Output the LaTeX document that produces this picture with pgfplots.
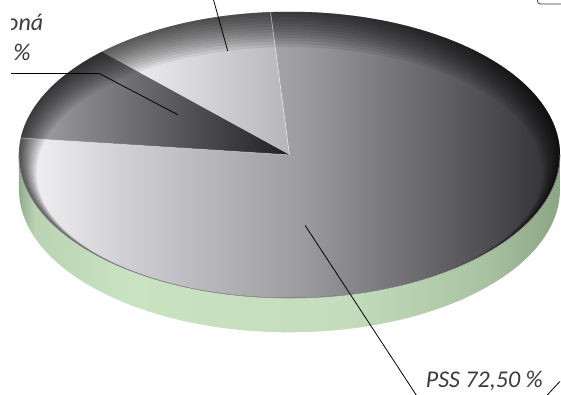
\documentclass[border=0pt]{standalone}
\usepackage{pgfplots}
\pgfplotsset{compat=1.18}
\usepackage{pgfplotstable}
\usepackage{fontspec}
\setmainfont{Carlito}

\definecolor{txt}{HTML}{3C3C3C}
\definecolor{pA}{HTML}{5A5A5E}
\definecolor{pB}{HTML}{C8C8CC}
\definecolor{pC}{HTML}{F0F0F2}
\definecolor{pD}{HTML}{D2D2D6}
\definecolor{pE}{HTML}{9B9BA0}
\definecolor{pF}{HTML}{646468}
\definecolor{pG}{HTML}{3C3C40}
\definecolor{pH}{HTML}{2E2E30}
\definecolor{gA}{HTML}{94AC8F}
\definecolor{gB}{HTML}{B9D3B3}
\definecolor{gC}{HTML}{C8E2C2}
\definecolor{gD}{HTML}{C3DDBD}
\definecolor{gE}{HTML}{A8C2A2}
\definecolor{gF}{HTML}{8BA585}

\pgfdeclarehorizontalshading{pssshade}{100bp}{color(0bp)=(pA); color(25bp)=(pA); color(25.7bp)=(pB); color(27.4bp)=(pC); color(35.1bp)=(pD); color(51.4bp)=(pE); color(63.2bp)=(pF); color(71.4bp)=(pG); color(75bp)=(pH); color(100bp)=(pH)}
\pgfdeclarehorizontalshading{greenshade}{100bp}{color(0bp)=(gA); color(25bp)=(gA); color(26.5bp)=(gB); color(35bp)=(gC); color(55bp)=(gD); color(68bp)=(gE); color(75bp)=(gF); color(100bp)=(gF)}

\pgfplotstableread{
part share
light 11.1
dark 10.9
PSS 78.0
}\piedata

\begin{document}
\pgfplotstablegetelem{0}{share}\of\piedata \let\sA\pgfplotsretval
\pgfplotstablegetelem{1}{share}\of\piedata \let\sB\pgfplotsretval
\pgfplotstablegetelem{2}{share}\of\piedata \let\sC\pgfplotsretval
\pgfmathsetmacro\aA{94}
\pgfmathsetmacro\aB{\aA+3.6*\sA}
\pgfmathsetmacro\aC{\aB+3.6*\sB}
\pgfmathsetmacro\aD{\aC+3.6*\sC}
\def\cx{284}\def\cy{244}\def\gy{209}
\begin{tikzpicture}
\useasboundingbox (0,0) rectangle (561pt,402pt);
\clip (0,0) rectangle (561pt,402pt);
\begin{axis}[at={(0,0)}, anchor=south west, x=1pt, y=1pt,
  xmin=0, xmax=561, ymin=0, ymax=402, hide axis, clip=false]
% green base
\shade[shading=greenshade] (axis cs:8,\gy) -- (axis cs:8,\cy) -- (axis cs:560,\cy) -- (axis cs:560,\gy)
  arc[start angle=0, end angle=-180, x radius=276pt, y radius=146pt] -- cycle;
% slices
\shade[shading=pssshade] (axis cs:\cx,\cy) -- ++(\aC:276pt and 146pt)
  arc[start angle=\aC, end angle=\aD, x radius=276pt, y radius=146pt] -- cycle;
\shade[left color={rgb,255:red,248;green,248;blue,249}, right color={rgb,255:red,182;green,182;blue,186}]
  (axis cs:\cx,\cy) -- ++(\aA:276pt and 146pt)
  arc[start angle=\aA, end angle=\aB, x radius=276pt, y radius=146pt] -- cycle;
\shade[left color={rgb,255:red,166;green,166;blue,170}, right color={rgb,255:red,32;green,32;blue,34}]
  (axis cs:\cx,\cy) -- ++(\aB:276pt and 146pt)
  arc[start angle=\aB, end angle=\aC, x radius=276pt, y radius=146pt] -- cycle;
% rim darkening
\pgfplotsinvokeforeach{1.5,3,4.5,6,7.5,9,10.5,12,13.5,15,16.5,18}{
  \fill[black, opacity=0.075, even odd rule]
    (axis cs:284,244) ellipse[x radius=276pt, y radius=146pt]
    (axis cs:284,244-#1) ellipse[x radius=276pt-#1pt, y radius=146pt-#1pt];
}
% slice edges
\draw[white, opacity=0.5, line width=0.8pt] (axis cs:\cx,\cy) -- ++(\aA:276pt and 146pt);
\draw[white, opacity=0.4, line width=0.8pt] (axis cs:\cx,\cy) -- ++(\aC:276pt and 146pt);
\draw[black!45, line width=0.6pt] (axis cs:8,\cy) arc[start angle=180, end angle=360, x radius=276pt, y radius=146pt];
% leader lines
\draw[black, line width=0.8pt] (axis cs:300,172) -- (axis cs:414,-2);
\draw[black, line width=0.8pt] (axis cs:547,-1) -- (axis cs:560,13);
\draw[black, line width=0.8pt] (axis cs:221,350) -- (axis cs:206,404);
\draw[black, line width=0.8pt] (axis cs:170,285) -- (axis cs:90,327) -- (axis cs:-5,327);
\draw[txt, line width=0.8pt, rounded corners=3pt] (axis cs:537,410) -- (axis cs:537,398) -- (axis cs:570,398);
% labels
\node[anchor=base west, inner sep=0pt, text=txt, font=\fontsize{24.5}{30}\selectfont\itshape] at (axis cs:423,7) {PSS 72,50 \%};
\node[anchor=base east, inner sep=0pt, text=txt, font=\fontsize{24.5}{30}\selectfont\itshape] at (axis cs:33,371) {Ostatná zmluvoná};
\node[anchor=base east, inner sep=0pt, text=txt, font=\fontsize{24.5}{30}\selectfont\itshape] at (axis cs:20,340) {13,75 \%};
\end{axis}
\end{tikzpicture}
\end{document}
